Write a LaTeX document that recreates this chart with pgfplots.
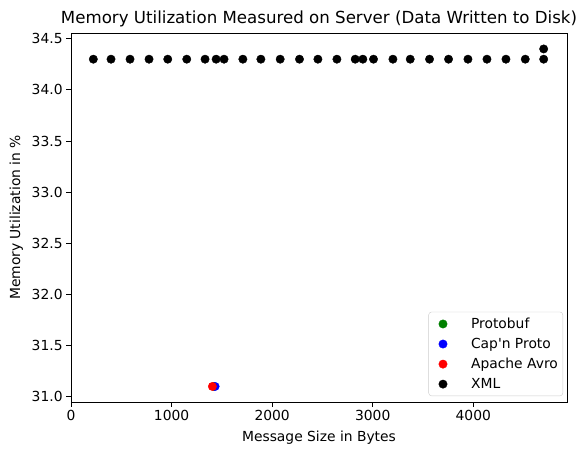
\documentclass[border=0pt]{standalone}
\usepackage{pgfplots}
\pgfplotsset{compat=1.18}
\usepackage{fontspec}
\setmainfont{DejaVu Sans}[Ligatures=TeXOff]
\definecolor{mplgreen}{RGB}{0,128,0}
\begin{document}
\begin{tikzpicture}
\begin{axis}[
  at={(0,0)}, anchor=south west,
  scale only axis, width=496bp, height=369bp,
  xmin=0, xmax=4932, ymin=30.948, ymax=34.556,
  xtick={0,1000,2000,3000,4000},
  ytick={31.0,31.5,32.0,32.5,33.0,33.5,34.0,34.5},
  /pgf/number format/assume math mode=true,
  x tick label style={/pgf/number format/.cd, fixed, 1000 sep={}},
  y tick label style={/pgf/number format/.cd, fixed, fixed zerofill, precision=1},
  tick label style={font=\fontsize{13.9}{16}\selectfont},
  label style={font=\fontsize{13.9}{16}\selectfont},
  title style={font=\fontsize{16.7}{20}\selectfont, yshift=-3bp},
  title={Memory Utilization Measured on Server (Data Written to Disk)},
  xlabel={Message Size in Bytes},
  ylabel={Memory Utilization in \%},
  xlabel style={yshift=-3bp},
  ylabel style={yshift=2bp},
  tick align=outside, major tick length=4.9bp,
  xtick pos=bottom, ytick pos=left,
  axis line style={line width=0.8bp},
  every tick/.style={black, line width=0.8bp},
  legend image code/.code={\path[mark repeat=2,mark phase=2,#1,draw=none] plot coordinates {(0cm,0cm) (0.4cm,0cm) (1.32cm,0cm)};},
  legend style={font=\fontsize{13.9}{16}\selectfont, draw=black!20, rounded corners=3bp, at={(0.992,0.016)}, anchor=south east, row sep=4.2bp, inner xsep=3bp, inner ysep=4bp},
  legend cell align=left,
]
\addplot[draw=none, mark=*, mark size=4.2bp, mark options={draw=mplgreen, fill=mplgreen}] coordinates {(1420,31.1)};
\addlegendentry{Protobuf}
\addplot[draw=none, mark=*, mark size=4.2bp, mark options={draw=blue, fill=blue}] coordinates {(1433,31.1)};
\addlegendentry{Cap'n Proto}
\addplot[draw=none, mark=*, mark size=4.2bp, mark options={draw=red, fill=red}] coordinates {(1406,31.1)};
\addlegendentry{Apache Avro}
\addplot[draw=none, mark=*, mark size=4.2bp, mark options={draw=black, fill=black}] coordinates {
(222,34.3) (398,34.3) (587,34.3) (776,34.3) (962,34.3) (1151,34.3) (1333,34.3) (1443,34.3) (1522,34.3)
(1709,34.3) (1888,34.3) (2080,34.3) (2272,34.3) (2455,34.3) (2644,34.3) (2826,34.3) (2902,34.3)
(3008,34.3) (3201,34.3) (3373,34.3) (3565,34.3) (3754,34.3) (3947,34.3) (4136,34.3) (4325,34.3)
(4517,34.3) (4700,34.3) (4700,34.4)};
\addlegendentry{XML}
\end{axis}
\path[use as bounding box] (-71bp,-53bp) rectangle (515bp,402bp);
\end{tikzpicture}
\end{document}
